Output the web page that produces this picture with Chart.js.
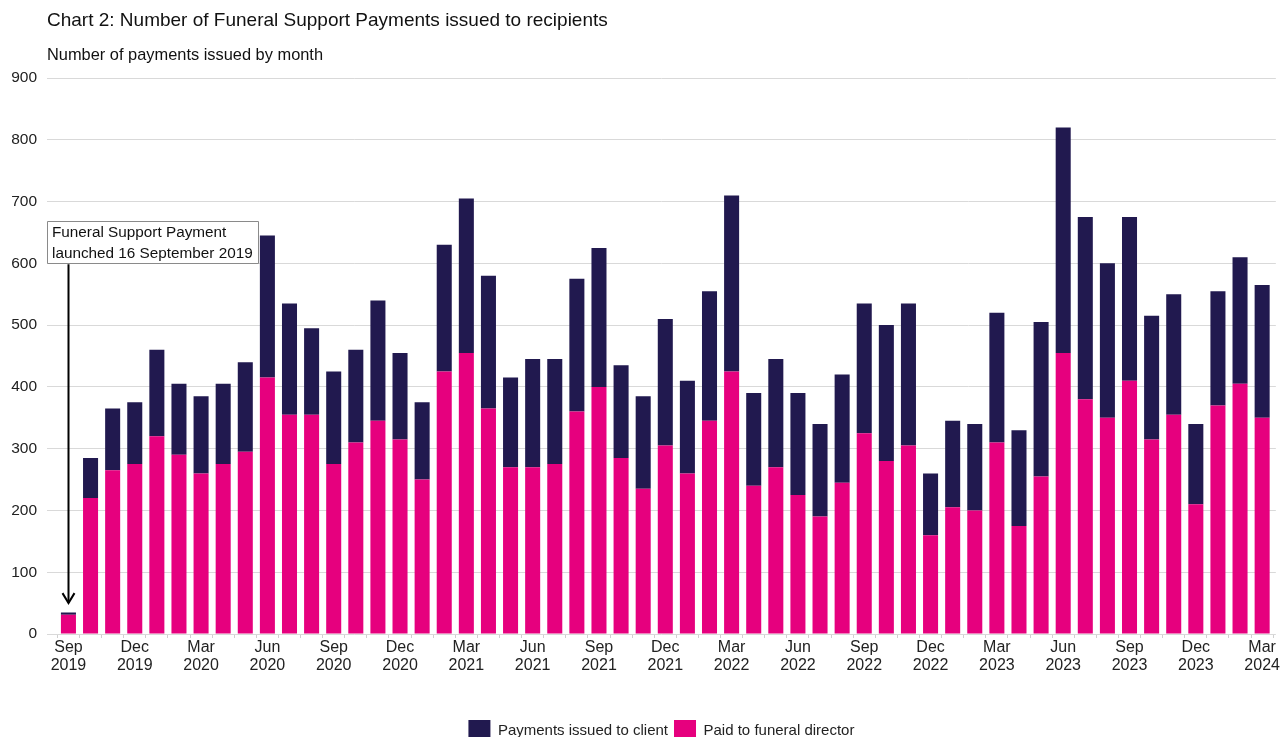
<!DOCTYPE html>
<html lang="en">
<head>
    <meta charset="UTF-8"/>
    <title>Funeral Support Payments</title>
    <script src="https://cdn.jsdelivr.net/npm/chart.js"></script>
    <style>
        html, body { margin: 0; padding: 0; background: #fff; overflow: hidden; }
        #wrap { position: absolute; left: 0; top: 0; width: 1281px; height: 752px; }
    </style>
</head>
<body>
<div id="wrap"><canvas id="myChart" width="1281" height="752"></canvas></div>
<script>
var months = [
    'Sep 2019','Oct 2019','Nov 2019','Dec 2019',
    'Jan 2020','Feb 2020','Mar 2020','Apr 2020','May 2020','Jun 2020','Jul 2020','Aug 2020','Sep 2020','Oct 2020','Nov 2020','Dec 2020',
    'Jan 2021','Feb 2021','Mar 2021','Apr 2021','May 2021','Jun 2021','Jul 2021','Aug 2021','Sep 2021','Oct 2021','Nov 2021','Dec 2021',
    'Jan 2022','Feb 2022','Mar 2022','Apr 2022','May 2022','Jun 2022','Jul 2022','Aug 2022','Sep 2022','Oct 2022','Nov 2022','Dec 2022',
    'Jan 2023','Feb 2023','Mar 2023','Apr 2023','May 2023','Jun 2023','Jul 2023','Aug 2023','Sep 2023','Oct 2023','Nov 2023','Dec 2023',
    'Jan 2024','Feb 2024','Mar 2024'
];

// paid to funeral director (bottom, pink)
var paidDirector = [
    31,220,265,275,
    320,290,260,275,295,415,355,355,275,310,345,315,
    250,425,455,365,270,270,275,360,400,285,235,305,
    260,345,425,240,270,225,190,245,325,280,305,160,
    205,200,310,175,255,455,380,350,410,315,355,210,
    370,405,350
];

// payments issued to client (top, navy)
var paidClient = [
    4,65,100,100,
    140,115,125,130,145,230,180,140,150,150,195,140,
    125,205,250,215,145,175,170,215,225,150,150,205,
    150,210,285,150,175,165,150,175,210,220,230,100,
    140,140,210,155,250,365,295,250,265,200,195,130,
    185,205,215
];

var yTicks = [0,100,200,300,400,500,600,700,800,900];

var navy = '#21194f';
var pink = '#e6007e';
var fontFam = '"Liberation Sans", Arial, sans-serif';

Chart.defaults.font.family = fontFam;
Chart.defaults.color = '#222';

function toPoints(arr) {
    return arr.map(function (v, i) { return { x: i, y: v }; });
}

// title + subtitle drawn at the plot's left edge
var headingPlugin = {
    id: 'heading',
    afterDraw: function (chart) {
        var ctx = chart.ctx;
        var left = chart.chartArea.left;
        ctx.save();
        ctx.fillStyle = '#111';
        ctx.textBaseline = 'middle';
        ctx.textAlign = 'left';
        ctx.font = '19px ' + fontFam;
        ctx.fillText('Chart 2: Number of Funeral Support Payments issued to recipients', left, 21);
        ctx.font = '16.4px ' + fontFam;
        ctx.fillText('Number of payments issued by month', left, 55);
        ctx.restore();
    }
};

// launch note with arrow pointing at the first bar
var note = {
    lines: ['Funeral Support Payment', 'launched 16 September 2019'],
    top: 668,
    bottom: 600,
    arrowX: 0,
    arrowTip: 50
};

var notePlugin = {
    id: 'launchNote',
    afterDatasetsDraw: function (chart) {
        var ctx = chart.ctx;
        var xs = chart.scales.x, ys = chart.scales.y;
        var left = chart.chartArea.left;
        var top = ys.getPixelForValue(note.top);
        var bottom = ys.getPixelForValue(note.bottom);
        ctx.save();
        ctx.font = '15.3px ' + fontFam;
        var w = 0;
        note.lines.forEach(function (l) { w = Math.max(w, ctx.measureText(l).width); });
        ctx.fillStyle = '#fff';
        ctx.strokeStyle = '#8a8a8a';
        ctx.lineWidth = 1;
        ctx.beginPath();
        ctx.rect(left + 0.5, Math.round(top) + 0.5, Math.round(w + 10), Math.round(bottom - top));
        ctx.fill();
        ctx.stroke();
        ctx.fillStyle = '#111';
        ctx.textBaseline = 'middle';
        var lh = (bottom - top) / 2;
        note.lines.forEach(function (l, i) {
            ctx.fillText(l, left + 5, top + lh * (i + 0.5) + 0.5);
        });
        var ax = Math.round(xs.getPixelForValue(note.arrowX)) + 0.5;
        var tip = ys.getPixelForValue(note.arrowTip);
        ctx.strokeStyle = '#000';
        ctx.lineWidth = 2;
        ctx.beginPath();
        ctx.moveTo(ax, bottom + 1);
        ctx.lineTo(ax, tip);
        ctx.stroke();
        ctx.beginPath();
        ctx.moveTo(ax - 6, tip - 10);
        ctx.lineTo(ax, tip);
        ctx.lineTo(ax + 6, tip - 10);
        ctx.stroke();
        ctx.restore();
    }
};

var ctx = document.getElementById('myChart').getContext('2d');
var myChart = new Chart(ctx, {
    type: 'bar',
    data: {
        datasets: [{
            label: 'Paid to funeral director',
            data: toPoints(paidDirector),
            backgroundColor: pink,
            borderWidth: 0,
            categoryPercentage: 1,
            barPercentage: 0.68
        }, {
            label: 'Payments issued to client',
            data: toPoints(paidClient),
            backgroundColor: navy,
            borderWidth: 0,
            categoryPercentage: 1,
            barPercentage: 0.68
        }]
    },
    options: {
        responsive: false,
        animation: false,
        layout: { padding: { top: 78, left: 8, right: 5, bottom: 0 } },
        plugins: {
            tooltip: { enabled: false },
            legend: {
                position: 'bottom',
                reverse: true,
                fullSize: false,
                labels: {
                    boxWidth: 22,
                    boxHeight: 22,
                    padding: 6,
                    font: { size: 15 },
                    color: '#222'
                }
            }
        },
        scales: {
            x: {
                type: 'linear',
                stacked: true,
                offset: false,
                min: -0.97,
                max: 54.62,
                afterBuildTicks: function (scale) {
                    scale.ticks = months.map(function (m, i) { return { value: i }; });
                },
                afterFit: function (scale) { scale.height = 80; },
                ticks: {
                    autoSkip: false,
                    maxRotation: 0,
                    minRotation: 0,
                    padding: 1,
                    font: { size: 16, lineHeight: 1.125 },
                    color: '#222',
                    callback: function (value) {
                        var i = Math.round(value);
                        return i % 3 === 0 ? months[i].split(' ') : '';
                    }
                },
                grid: {
                    drawOnChartArea: false,
                    drawTicks: true,
                    tickLength: 4,
                    color: '#d0d0d0'
                },
                border: { display: false }
            },
            y: {
                stacked: true,
                min: 0,
                max: 900,
                afterBuildTicks: function (scale) {
                    scale.ticks = yTicks.map(function (v) { return { value: v }; });
                },
                afterFit: function (scale) { scale.width = 39; },
                ticks: {
                    padding: 10,
                    font: { size: 15.5 },
                    color: '#222'
                },
                grid: {
                    color: '#d9d9d9',
                    drawTicks: false
                },
                border: { display: false }
            }
        }
    },
    plugins: [headingPlugin, notePlugin]
});
</script>
</body>
</html>
